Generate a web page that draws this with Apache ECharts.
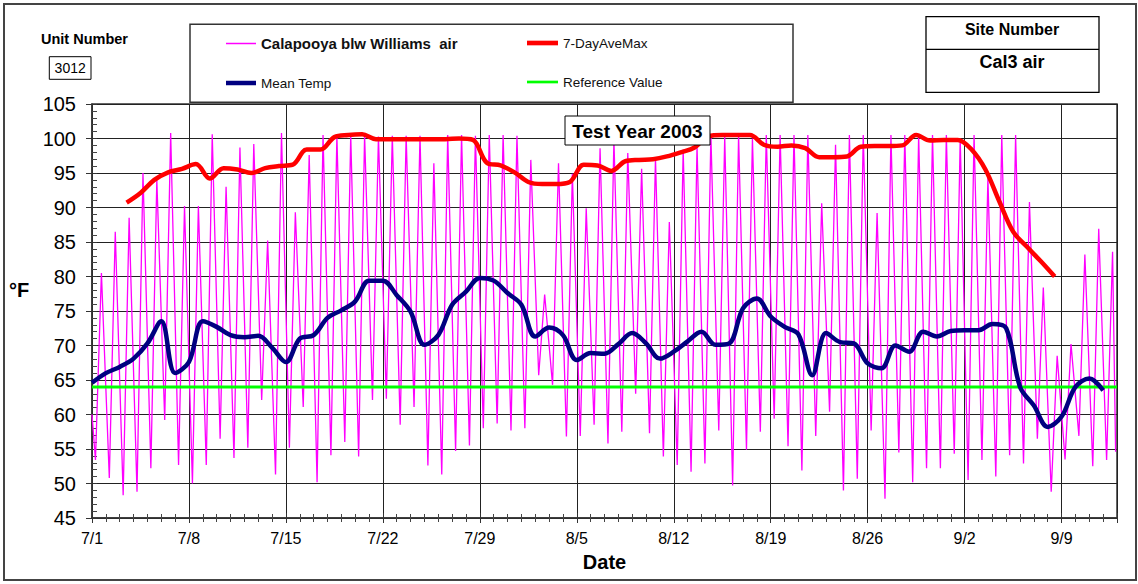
<!DOCTYPE html>
<html><head><meta charset="utf-8">
<script src="https://cdn.jsdelivr.net/npm/echarts@6/dist/echarts.min.js"></script>
<style>html,body{margin:0;padding:0;background:#fff}#c{width:1138px;height:584px}</style>
</head><body><div id="c"></div>
<script>
// ---- data ----
const tickLabels = ['7/1','7/8','7/15','7/22','7/29','8/5','8/12','8/19','8/26','9/2','9/9'];
// daily low / high air temperature, 7/1 .. 9/12
const dailyMin = [
  53.4, 50.8, 48.3, 48.8, 52.2, 59.2, 52.7, 50.0, 52.7, 56.5,
  53.7, 55.2, 62.1, 51.3, 55.2, 61.1, 50.2, 54.1, 56.0, 53.9,
  62.1, 62.3, 58.5, 61.1, 52.6, 51.3, 54.7, 55.5, 58.0, 58.7,
  57.7, 58.0, 65.7, 64.3, 56.8, 56.9, 58.5, 55.8, 57.5, 63.0,
  57.3, 53.9, 52.7, 51.7, 52.9, 57.7, 49.7, 54.9, 57.5, 59.4,
  55.4, 51.9, 56.9, 60.4, 49.0, 50.7, 57.7, 47.8, 54.5, 50.2,
  52.2, 52.2, 54.3, 50.5, 53.4, 51.0, 54.1, 52.9, 56.5, 48.8,
  53.5, 56.9, 52.5, 53.4
];
const dailyMax = [
  80.5, 86.5, 88.5, 95.0, 94.0, 100.8, 90.2, 90.2, 100.6, 93.0,
  98.7, 99.2, 85.2, 100.8, 89.3, 97.6, 100.5, 100.4, 100.5, 100.5,
  100.3, 100.4, 100.4, 100.4, 96.4, 100.5, 100.5, 100.4, 100.5, 100.5,
  100.4, 96.9, 77.4, 96.4, 94.9, 89.9, 98.6, 99.8, 97.9, 95.6,
  97.2, 87.9, 98.4, 98.9, 100.5, 100.3, 100.5, 100.0, 100.5, 100.5,
  100.5, 100.5, 90.6, 99.1, 100.5, 100.5, 89.2, 100.5, 100.5, 100.5,
  100.5, 100.5, 100.0, 100.5, 94.3, 100.5, 100.5, 90.8, 78.4, 68.5,
  70.2, 83.2, 86.9, 83.6
];
const firstReading = 60.0;
const lastReading = 54.6;
// daily mean, 7/1 .. 9/12
const meanTemp = [
  64.6, 66.0, 66.9, 68.1, 70.3, 73.5, 66.0, 67.6, 73.5, 72.7,
  71.5, 71.2, 71.4, 69.7, 67.6, 71.0, 71.5, 74.0, 75.1, 76.4,
  79.4, 79.4, 77.3, 74.9, 70.1, 71.5, 75.9, 77.8, 79.8, 79.4,
  77.6, 75.9, 71.3, 72.6, 71.5, 67.9, 68.9, 68.8, 70.2, 71.8,
  70.3, 68.1, 69.1, 70.6, 72.0, 70.1, 70.3, 75.4, 76.8, 74.2,
  72.7, 71.6, 65.7, 71.8, 70.5, 70.3, 67.4, 66.7, 70.0, 69.1,
  72.0, 71.3, 72.1, 72.2, 72.2, 73.1, 72.5, 64.0, 61.3, 58.2,
  59.7, 64.0, 65.2, 63.5
];
// 7-day average of daily maxima
const sevenDayAveMax = [
  90.7, 92.1, 94.0, 95.1, 95.6, 96.3, 94.2, 95.7, 95.5, 95.0,
  95.7, 96.0, 96.2, 98.4, 98.4, 100.2, 100.5, 100.6, 99.9, 99.9,
  99.9, 99.9, 99.9, 99.9, 100.0, 99.8, 96.5, 96.1, 95.1, 93.7,
  93.4, 93.4, 93.7, 96.2, 96.1, 95.3, 96.7, 96.9, 97.0, 97.4,
  98.0, 98.7, 100.3, 100.5, 100.5, 100.5, 99.1, 98.8, 99.0, 98.6,
  97.3, 97.3, 97.4, 98.8, 98.9, 98.9, 99.0, 100.5, 99.7, 99.8,
  99.8, 98.4, 95.5, 90.9, 86.5, 84.3, 82.2, 80.0
];
const referenceValue = 64;

// ---- layout helpers ----
const FONT = "'Liberation Sans', Arial, sans-serif";
const DAYS = 74;            // 7/1 .. 9/13
const LOW_AT = 0.25, HIGH_AT = 0.68, AVE_SHIFT = 2.5, LAST_AT = 73.9;

const airData = [[0, firstReading]];
for (let i = 0; i < dailyMin.length; i++) {
  airData.push([i + LOW_AT, dailyMin[i]]);
  airData.push([i + HIGH_AT, dailyMax[i]]);
}
airData.push([LAST_AT, lastReading]);
const meanData = meanTemp.map((v, i) => [i, v]);
const aveData = sevenDayAveMax.map((v, i) => [i + AVE_SHIFT, v]);
const refData = [[0, referenceValue], [DAYS, referenceValue]];

const xLabel = v => (v % 7 === 0 && tickLabels[v / 7] !== undefined) ? tickLabels[v / 7] : '';

// thin bar icons for the legend (aspect ratio = thickness of the sample line)
const ICON_THIN = 'path://M0,0H40V2H0Z';
const ICON_THICK = 'path://M0,0H20V3H0Z';
const ICON_MID = 'path://M0,0H30V2.6H0Z';

const chart = echarts.init(document.getElementById('c'), null, {renderer: 'svg'});
chart.setOption({
  animation: false,
  backgroundColor: '#fff',
  textStyle: {fontFamily: FONT},
  grid: {left: 92, top: 104, width: 1025, height: 414, show: true, borderColor: '#333', borderWidth: 1.5},
  xAxis: [
    {type: 'value', min: 0, max: DAYS, interval: 7, position: 'bottom',
     axisLine: {show: true, onZero: false, lineStyle: {color: '#333', width: 1.5}},
     axisTick: {show: true, inside: false, length: 5, lineStyle: {color: '#333'}},
     minorTick: {show: true, splitNumber: 7, length: 4, lineStyle: {color: '#444'}},
     splitLine: {show: true, lineStyle: {color: '#222', width: 1}},
     axisLabel: {formatter: xLabel, fontSize: 16, color: '#000', margin: 12, fontFamily: FONT, showMaxLabel: false},
     name: 'Date', nameLocation: 'middle', nameGap: 34,
     nameTextStyle: {fontSize: 20, fontWeight: 'bold', color: '#000', fontFamily: FONT}},
    {type: 'value', min: 0, max: DAYS, interval: 7, position: 'bottom',
     axisLine: {show: false, onZero: false},
     axisTick: {show: true, inside: true, length: 5, lineStyle: {color: '#333'}},
     minorTick: {show: true, splitNumber: 7, length: 4, lineStyle: {color: '#444'}},
     splitLine: {show: false}, axisLabel: {show: false}}
  ],
  yAxis: [
    {type: 'value', min: 45, max: 105, interval: 5, position: 'left',
     axisLine: {show: true, onZero: false, lineStyle: {color: '#333', width: 1.5}},
     axisTick: {show: true, inside: false, length: 6, lineStyle: {color: '#333'}},
     splitLine: {show: true, lineStyle: {color: '#222', width: 1}},
     axisLabel: {fontSize: 20, color: '#000', margin: 16, fontFamily: FONT}},
    {type: 'value', min: 45, max: 105, interval: 5, position: 'left',
     axisLine: {show: false, onZero: false},
     axisTick: {show: true, inside: true, length: 5, lineStyle: {color: '#333'}},
     minorTick: {show: true, splitNumber: 5, length: 5, lineStyle: {color: '#444'}},
     splitLine: {show: false}, axisLabel: {show: false}}
  ],
  legend: [
    {orient: 'vertical', left: 226, top: 36, padding: 0, itemWidth: 30, itemHeight: 14, itemGap: 25,
     itemStyle: {borderWidth: 0},
     textStyle: {fontSize: 13.5, color: '#111', fontFamily: FONT},
     data: [{name: 'Calapooya blw Williams  air', icon: ICON_THIN, textStyle: {fontSize: 15, fontWeight: 'bold'}},
            {name: 'Mean Temp', icon: ICON_THICK}]},
    {orient: 'vertical', left: 527, top: 36, padding: 0, itemWidth: 31, itemHeight: 14, itemGap: 25,
     itemStyle: {borderWidth: 0},
     textStyle: {fontSize: 13.5, color: '#111', fontFamily: FONT},
     data: [{name: '7-DayAveMax', icon: ICON_THICK}, {name: 'Reference Value', icon: ICON_MID}]}
  ],
  series: [
    {name: 'Calapooya blw Williams  air', type: 'line', data: airData, symbol: 'none', showSymbol: false,
     color: '#FF00FF', lineStyle: {color: '#FF00FF', width: 1.3}, z: 2},
    {name: 'Reference Value', type: 'line', data: refData, symbol: 'none', showSymbol: false,
     color: '#00FF00', lineStyle: {color: '#00FF00', width: 3}, z: 3},
    {name: '7-DayAveMax', type: 'line', data: aveData, symbol: 'none', showSymbol: false, smooth: 0.35,
     color: '#FF0000', lineStyle: {color: '#FF0000', width: 4.5}, z: 4},
    {name: 'Mean Temp', type: 'line', data: meanData, symbol: 'none', showSymbol: false, smooth: 0.35,
     color: '#000080', lineStyle: {color: '#000080', width: 4.5}, z: 5}
  ],
  graphic: [
    {type: 'rect', z: 0, shape: {x: 4, y: 4, width: 1132, height: 576}, style: {fill: 'none', stroke: '#444', lineWidth: 2}},
    {type: 'rect', z: 0, shape: {x: 190, y: 24.3, width: 603, height: 78}, style: {fill: 'none', stroke: '#333', lineWidth: 1.5}},
    {type: 'text', z: 10, style: {text: '°F', x: 19, y: 290, align: 'center', verticalAlign: 'middle', fontSize: 20, fontWeight: 'bold', fontFamily: FONT, fill: '#000'}},
    {type: 'text', z: 10, style: {text: 'Unit Number', x: 84.5, y: 39, align: 'center', verticalAlign: 'middle', fontSize: 14.5, fontWeight: 'bold', fontFamily: FONT, fill: '#000'}},
    {type: 'rect', z: 10, shape: {x: 49.3, y: 56.7, width: 41.7, height: 22.6}, style: {fill: '#fff', stroke: '#000', lineWidth: 1}},
    {type: 'text', z: 11, style: {text: '3012', x: 70.2, y: 68.3, align: 'center', verticalAlign: 'middle', fontSize: 14, fontFamily: FONT, fill: '#000'}},
    {type: 'rect', z: 10, shape: {x: 926, y: 16.7, width: 173, height: 75.6}, style: {fill: '#fff', stroke: '#000', lineWidth: 1.3}},
    {type: 'line', z: 11, shape: {x1: 926, y1: 49.3, x2: 1099, y2: 49.3}, style: {stroke: '#000', lineWidth: 1.3}},
    {type: 'text', z: 11, style: {text: 'Site Number', x: 1012, y: 29, align: 'center', verticalAlign: 'middle', fontSize: 16, fontWeight: 'bold', fontFamily: FONT, fill: '#000'}},
    {type: 'text', z: 11, style: {text: 'Cal3 air', x: 1012, y: 61.5, align: 'center', verticalAlign: 'middle', fontSize: 18, fontWeight: 'bold', fontFamily: FONT, fill: '#000'}},
    {type: 'rect', z: 100, shape: {x: 565, y: 116, width: 145, height: 29}, style: {fill: '#fff', stroke: '#000', lineWidth: 1}},
    {type: 'text', z: 101, style: {text: 'Test Year 2003', x: 637.5, y: 131, align: 'center', verticalAlign: 'middle', fontSize: 19, fontWeight: 'bold', fontFamily: FONT, fill: '#000'}}
  ]
});
</script>
</body></html>
